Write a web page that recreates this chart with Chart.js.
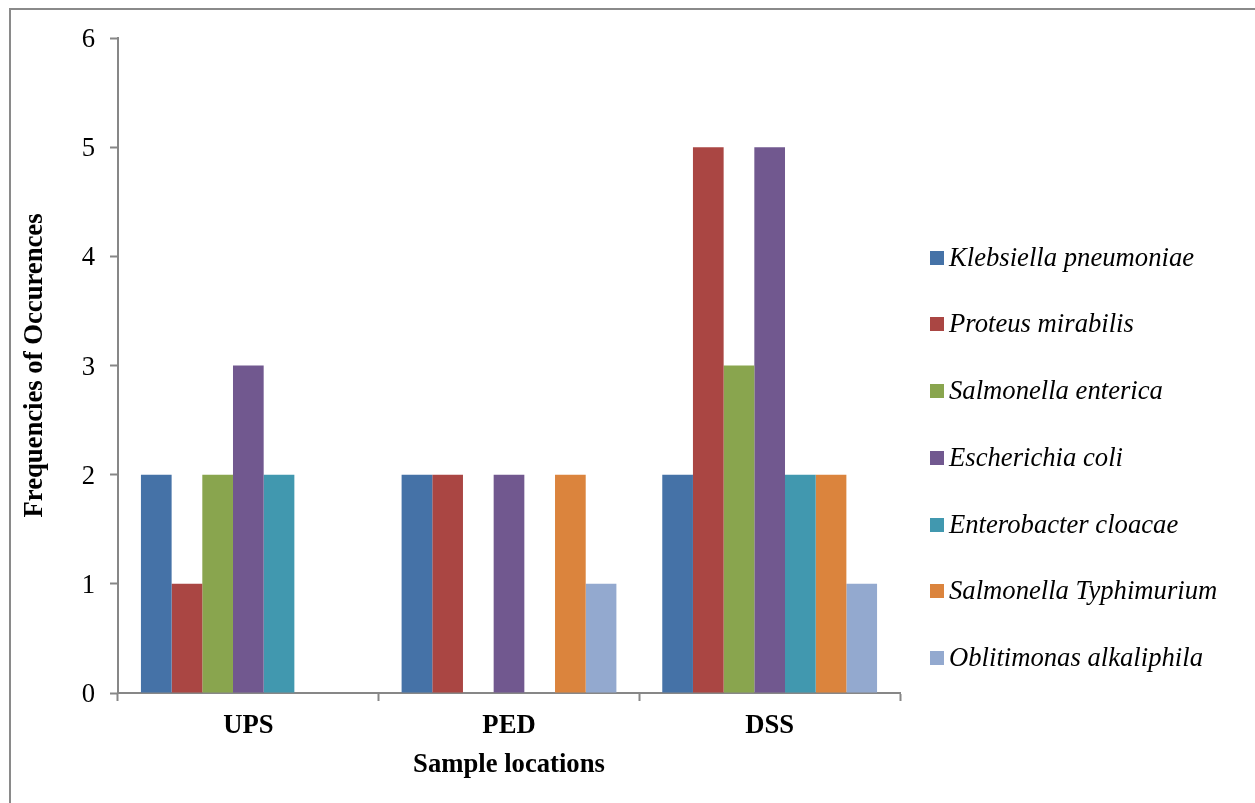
<!DOCTYPE html>
<html>
<head>
<meta charset="utf-8">
<script src="https://cdn.jsdelivr.net/npm/chart.js@4/dist/chart.umd.min.js"></script>
<style>
  html, body { margin: 0; padding: 0; background: #ffffff; }
  #wrap { position: relative; width: 1255px; height: 803px; }
</style>
</head>
<body>
<div id="wrap"><canvas id="c"></canvas></div>
<script>
const categories = ["UPS", "PED", "DSS"];
const seriesNames = [
  "Klebsiella pneumoniae",
  "Proteus mirabilis",
  "Salmonella enterica",
  "Escherichia coli",
  "Enterobacter cloacae",
  "Salmonella Typhimurium",
  "Oblitimonas alkaliphila"
];
const klebsiella   = [2, 2, 2];
const proteus      = [1, 2, 5];
const salmonellaE  = [2, 0, 3];
const ecoli        = [3, 2, 5];
const enterobacter = [2, 0, 2];
const salmonellaT  = [0, 2, 2];
const oblitimonas  = [0, 1, 1];
const yTicks = [0, 1, 2, 3, 4, 5, 6];

const seriesValues = [klebsiella, proteus, salmonellaE, ecoli, enterobacter, salmonellaT, oblitimonas];
const colors = ["#4572A7", "#AA4643", "#89A54E", "#71588F", "#4198AF", "#DB843D", "#93A9CF"];

const axisColor = "#878787";
const serif = "'Liberation Serif', 'Times New Roman', serif";
const fs = 26.67;

const frameAndLegend = {
  id: "frameAndLegend",
  beforeDraw(chart) {
    const ctx = chart.ctx;
    ctx.save();
    ctx.fillStyle = "#ffffff";
    ctx.fillRect(0, 0, chart.width, chart.height);
    ctx.strokeStyle = "#8a8a8a";
    ctx.lineWidth = 2;
    ctx.strokeRect(10, 9, 1300, 860);
    ctx.restore();
  },
  afterDraw(chart) {
    const ctx = chart.ctx;
    ctx.save();
    ctx.font = "italic " + fs + "px " + serif;
    ctx.textBaseline = "middle";
    ctx.textAlign = "left";
    chart.data.datasets.forEach((ds, i) => {
      const cy = 257.7 + i * 66.7;
      ctx.fillStyle = ds.backgroundColor;
      ctx.fillRect(930, Math.round(cy - 7), 14, 14);
      ctx.fillStyle = "#000000";
      ctx.fillText(ds.label, 949, cy + 1);
    });
    ctx.restore();
  }
};

new Chart(document.getElementById("c"), {
  type: "bar",
  data: {
    labels: categories,
    datasets: seriesNames.map((name, i) => ({
      label: name,
      data: seriesValues[i],
      backgroundColor: colors[i],
      borderWidth: 0,
      categoryPercentage: 0.824,
      barPercentage: 1.0
    }))
  },
  options: {
    responsive: true,
    maintainAspectRatio: false,
    animation: false,
    events: [],
    layout: { padding: { left: 10, top: 38, right: 355, bottom: 0 } },
    plugins: {
      legend: { display: false },
      tooltip: { enabled: false }
    },
    scales: {
      x: {
        offset: true,
        afterFit(scale) { scale.height = 110; },
        grid: {
          offset: true,
          drawOnChartArea: false,
          drawTicks: true,
          tickLength: 8,
          tickWidth: 2,
          color: axisColor
        },
        border: { display: true, color: axisColor, width: 2 },
        ticks: {
          color: "#000000",
          padding: 9,
          font: { family: serif, size: fs, weight: "bold" }
        },
        title: {
          display: true,
          text: "Sample locations",
          color: "#000000",
          padding: { top: 0, bottom: 22 },
          font: { family: serif, size: fs, weight: "bold" }
        }
      },
      y: {
        min: 0,
        max: 6,
        afterFit(scale) { scale.width = 108; },
        afterBuildTicks(scale) { scale.ticks = yTicks.map(v => ({ value: v })); },
        grid: {
          drawOnChartArea: false,
          drawTicks: true,
          tickLength: 8,
          tickWidth: 2,
          color: axisColor
        },
        border: { display: true, color: axisColor, width: 2 },
        ticks: {
          color: "#000000",
          padding: 15,
          labelOffset: 2,
          font: { family: serif, size: fs }
        },
        title: {
          display: true,
          text: "Frequencies of Occurences",
          color: "#000000",
          padding: { top: 9, bottom: 0 },
          font: { family: serif, size: fs, weight: "bold" }
        }
      }
    }
  },
  plugins: [frameAndLegend]
});
</script>
</body>
</html>
